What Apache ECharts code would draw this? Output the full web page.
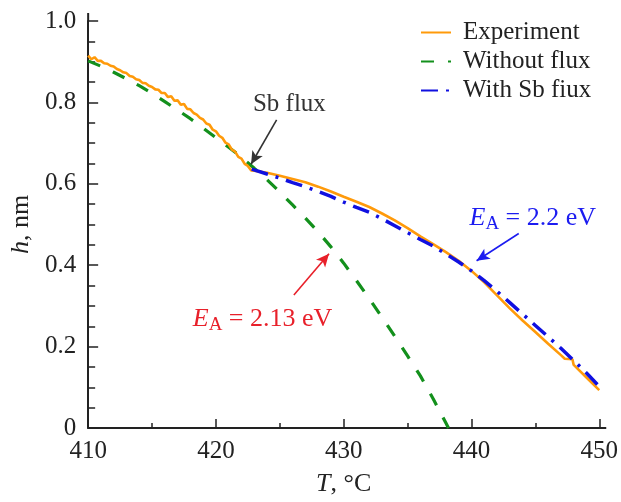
<!DOCTYPE html>
<html>
<head>
<meta charset="utf-8">
<script src="https://cdn.jsdelivr.net/npm/echarts/dist/echarts.min.js"></script>
<style>
  html, body { margin: 0; padding: 0; background: #fff; }
  #chart { width: 621px; height: 502px; }
</style>
</head>
<body>
<div id="chart"></div>
<script>
// experiment (noisy part before the Sb flux, then after it)
var expT = [410, 410.25, 410.5, 410.75, 411, 411.25, 411.5, 411.75, 412, 412.25, 412.5, 412.75,
  413, 413.25, 413.5, 413.75, 414, 414.25, 414.5, 414.75, 415, 415.25, 415.5, 415.75,
  416, 416.25, 416.5, 416.75, 417, 417.25, 417.5, 417.75, 418, 418.25, 418.5, 418.75,
  419, 419.25, 419.5, 419.75, 420, 420.25, 420.5, 420.75, 421, 421.25, 421.5, 421.75,
  422, 422.25, 422.5, 422.75,
  423, 424, 425, 426, 427, 428, 429, 430, 431, 432, 433, 434, 435, 436, 437, 438, 439,
  440, 441, 442, 443, 444, 445, 446, 447, 447.3, 447.9, 448, 449, 450];
var expH = [0.915, 0.906, 0.911, 0.902, 0.902, 0.896, 0.895, 0.890, 0.888, 0.882, 0.879, 0.874,
  0.872, 0.865, 0.863, 0.857, 0.855, 0.848, 0.847, 0.841, 0.838, 0.832, 0.831, 0.823,
  0.823, 0.813, 0.815, 0.804, 0.805, 0.794, 0.796, 0.784, 0.783, 0.774, 0.770, 0.762,
  0.758, 0.748, 0.745, 0.733, 0.729, 0.718, 0.713, 0.701, 0.697, 0.684, 0.679, 0.666,
  0.662, 0.649, 0.644, 0.633,
  0.632, 0.627, 0.620, 0.612, 0.604, 0.593, 0.581, 0.568, 0.556, 0.543, 0.527, 0.510, 0.491,
  0.471, 0.452, 0.432, 0.411, 0.386, 0.358, 0.326, 0.294, 0.264, 0.236, 0.207, 0.179,
  0.170, 0.169, 0.155, 0.124, 0.093];

// model without flux
var noFluxT = [410, 411, 412, 413, 414, 415, 416, 417, 418, 419, 420, 421, 422, 423, 424, 425,
  426, 427, 428, 429, 430, 431, 432, 433, 434, 435, 436, 437, 438, 438.2];
var noFluxH = [0.902, 0.889, 0.874, 0.858, 0.841, 0.822, 0.802, 0.781, 0.760, 0.737, 0.713,
  0.690, 0.665, 0.638, 0.610, 0.580, 0.548, 0.516, 0.482, 0.445, 0.405, 0.362, 0.318, 0.272,
  0.225, 0.177, 0.128, 0.072, 0.012, 0];

// model with Sb flux
var sbT = [422.8, 424, 425, 426, 427, 428, 429, 430, 431, 432, 433, 434, 435, 436, 437, 438,
  439, 440, 441, 442, 443, 444, 445, 446, 447, 448, 449, 450];
var sbH = [0.636, 0.624, 0.614, 0.603, 0.593, 0.581, 0.569, 0.555, 0.542, 0.530, 0.514, 0.497,
  0.480, 0.463, 0.447, 0.428, 0.408, 0.386, 0.362, 0.336, 0.308, 0.280, 0.252, 0.224, 0.196,
  0.166, 0.135, 0.102];

var xTicks = [410, 420, 430, 440, 450];
var yTicks = [0, 0.2, 0.4, 0.6, 0.8, 1.0];

function pairs(xs, ys) {
  var out = [];
  for (var i = 0; i < xs.length; i++) out.push([xs[i], ys[i]]);
  return out;
}

var FONT = 'Liberation Serif';
var INK = '#222';

var myChart = echarts.init(document.getElementById('chart'));

function eaLabel(value, color) {
  return {
    show: true,
    position: 'inside',
    formatter: '{i|E}{s|A}{n| = ' + value + ' eV}',
    rich: {
      i: { fontFamily: FONT, fontSize: 26, fontStyle: 'italic', color: color },
      s: { fontFamily: FONT, fontSize: 19, color: color, padding: [12, 0, 0, 0] },
      n: { fontFamily: FONT, fontSize: 26, color: color }
    }
  };
}

var option = {
  animation: false,
  textStyle: { fontFamily: FONT },
  grid: { left: 83, right: 20, top: 21, bottom: 68, containLabel: false },
  legend: {
    orient: 'vertical',
    left: 420,
    top: 18,
    padding: 0,
    itemWidth: 30,
    itemHeight: 14,
    itemGap: 0,
    itemStyle: { opacity: 0 },
    textStyle: { fontFamily: FONT, fontSize: 25, color: INK, lineHeight: 29, padding: [0, 0, 0, 7] },
    data: ['Experiment', 'Without flux', 'With Sb fiux']
  },
  xAxis: {
    type: 'value',
    min: 410, max: 450, interval: 10,
    name: '{i|T}{n|, °C}',
    nameLocation: 'middle',
    nameGap: 43,
    nameTextStyle: {
      rich: {
        i: { fontFamily: FONT, fontSize: 26, fontStyle: 'italic', color: INK },
        n: { fontFamily: FONT, fontSize: 26, color: INK }
      }
    },
    axisLine: { lineStyle: { color: INK, width: 2 } },
    axisTick: { inside: true, length: 9, lineStyle: { color: INK, width: 1.5 } },
    minorTick: { show: true, splitNumber: 2, length: 5, lineStyle: { color: INK, width: 1.5 } },
    splitLine: { show: false },
    axisLabel: {
      fontFamily: FONT, fontSize: 25, color: INK, margin: 11,
      formatter: function (v) { return xTicks.indexOf(v) >= 0 ? String(v) : ''; }
    }
  },
  yAxis: {
    type: 'value',
    min: 0, max: 1, interval: 0.2,
    name: '{i|h}{n|, nm}',
    nameLocation: 'middle',
    nameGap: 51,
    nameTextStyle: {
      rich: {
        i: { fontFamily: FONT, fontSize: 26, fontStyle: 'italic', color: INK },
        n: { fontFamily: FONT, fontSize: 26, color: INK }
      }
    },
    axisLine: { show: true, lineStyle: { color: INK, width: 2 } },
    axisTick: { show: true, inside: true, length: 10, lineStyle: { color: INK, width: 1.5 } },
    minorTick: { show: true, splitNumber: 4, length: 7, lineStyle: { color: INK, width: 1.5 } },
    splitLine: { show: false },
    axisLabel: {
      fontFamily: FONT, fontSize: 25, color: INK, margin: 12,
      formatter: function (v) {
        var t = yTicks.filter(function (k) { return Math.abs(k - v) < 1e-6; });
        if (!t.length) return '';
        return v === 0 ? '0' : v.toFixed(1);
      }
    }
  },
  series: [
    {
      name: 'Without flux',
      type: 'line',
      symbol: 'none',
      z: 2,
      lineStyle: { color: '#13901c', width: 3.2, type: [13, 14] },
      itemStyle: { color: '#13901c' },
      data: pairs(noFluxT, noFluxH)
    },
    {
      name: 'Experiment',
      type: 'line',
      symbol: 'none',
      z: 3,
      lineStyle: { color: '#ff9a0a', width: 2.6 },
      itemStyle: { color: '#ff9a0a' },
      data: pairs(expT, expH),
      markLine: {
        silent: true,
        animation: false,
        symbol: ['none', 'arrow'],
        symbolSize: [9, 13],
        label: { show: false },
        emphasis: { disabled: true },
        data: [
          [{ coord: [424.75, 0.757], lineStyle: { color: '#333', width: 1.6, type: 'solid' } }, { coord: [422.75, 0.648] }],
          [{ coord: [426.1, 0.327], lineStyle: { color: '#e8202a', width: 1.6, type: 'solid' } }, { coord: [428.85, 0.428] }],
          [{ coord: [443.7, 0.478], lineStyle: { color: '#1c1cf0', width: 1.6, type: 'solid' } }, { coord: [440.4, 0.411] }]
        ]
      },
      markPoint: {
        silent: true,
        symbol: 'rect',
        symbolSize: 0,
        data: [
          {
            coord: [425.75, 0.796],
            label: { show: true, position: 'inside', formatter: 'Sb flux',
              fontFamily: FONT, fontSize: 25, color: '#333' }
          },
          { coord: [423.65, 0.268], label: eaLabel('2.13', '#e8202a') },
          { coord: [444.8, 0.515], label: eaLabel('2.2', '#1c1cf0') }
        ]
      }
    },
    {
      name: 'With Sb fiux',
      type: 'line',
      symbol: 'none',
      z: 4,
      lineStyle: { color: '#1010e0', width: 3.5, type: [17, 8, 3, 8] },
      itemStyle: { color: '#1010e0' },
      data: pairs(sbT, sbH)
    }
  ]
};

myChart.setOption(option);

// the frame lines run a little past the last ticks, as in the figure
var topLeft = myChart.convertToPixel({ gridIndex: 0 }, [410, 1]);
var right = myChart.convertToPixel({ gridIndex: 0 }, [450, 0]);
myChart.setOption({
  graphic: [
    { type: 'line', silent: true, shape: { x1: topLeft[0], y1: topLeft[1], x2: topLeft[0], y2: topLeft[1] - 8 },
      style: { stroke: INK, lineWidth: 2 } },
    { type: 'line', silent: true, shape: { x1: right[0], y1: right[1], x2: right[0] + 7, y2: right[1] },
      style: { stroke: INK, lineWidth: 2 } }
  ]
});

window.addEventListener('resize', function () {
  myChart.resize();
});
</script>
</body>
</html>
